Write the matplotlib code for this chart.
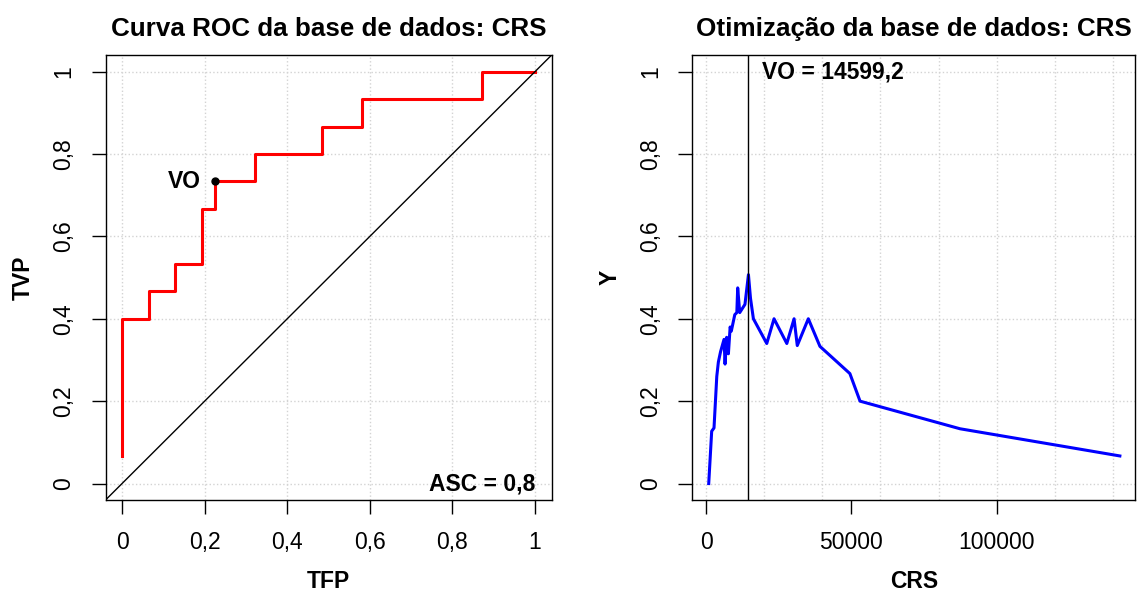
import numpy as np
import matplotlib
matplotlib.use("Agg")
import matplotlib.pyplot as plt
from matplotlib.ticker import FuncFormatter

plt.rcParams['font.family'] = ['Liberation Sans', 'DejaVu Sans']

# curva ROC (15 positivos, 31 negativos)
tfp = [0, 0, 2/31, 2/31, 4/31, 4/31, 6/31, 6/31, 7/31, 7/31, 10/31, 10/31,
       15/31, 15/31, 18/31, 18/31, 27/31, 27/31, 1]
tvp = [1/15, 6/15, 6/15, 7/15, 7/15, 8/15, 8/15, 10/15, 10/15, 11/15, 11/15,
       12/15, 12/15, 13/15, 13/15, 14/15, 14/15, 1, 1]
vo_tfp = 7/31
vo_tvp = 11/15
asc = "0,8"

# otimizacao: valor de corte x indice
crs = [930, 1950, 2750, 3700, 4250, 5000, 6200, 6550, 7100, 7700, 8300, 8700,
       9900, 10600, 10900, 11600, 13400, 14599.2, 15300, 16300, 20900, 23400,
       27800, 30300, 31400, 35200, 39200, 49500, 53000, 87400, 142400]
y_val = [0.0, 0.127, 0.135, 0.26, 0.295, 0.32, 0.35, 0.29, 0.355, 0.315, 0.38,
         0.37, 0.41, 0.415, 0.475, 0.415, 0.435, 0.507, 0.45, 0.40, 0.34, 0.40,
         0.34, 0.40, 0.335, 0.40, 0.333, 0.267, 0.20, 0.133, 0.067]
vo_crs = 14599.2

FS = 16.5
FS_TIT = 18.7
virgula = FuncFormatter(lambda v, p: f"{v:g}".replace('.', ','))

fig = plt.figure(figsize=(11.37, 5.94), dpi=100)
ax1 = fig.add_axes([0.0928, 0.1582, 0.3923, 0.749])
ax2 = fig.add_axes([0.6089, 0.1582, 0.3894, 0.749])

def estilo(ax):
    ax.tick_params(direction='out', length=10, width=1, labelsize=FS)
    ax.tick_params(axis='x', pad=12.4)
    ax.tick_params(axis='y', pad=11.7)
    for t in ax.get_yticklabels():
        t.set_rotation(90)
        t.set_va('center')
    for s in ax.spines.values():
        s.set_linewidth(1)

# painel esquerdo
ticks = np.arange(0, 1.01, 0.2)
for t in ticks:
    ax1.axvline(t, color='lightgray', ls=':', lw=1, zorder=0)
    ax1.axhline(t, color='lightgray', ls=':', lw=1, zorder=0)
ax1.plot(tfp, tvp, color='red', lw=2.2)
ax1.axline((0, 0), (1, 1), color='black', lw=1)
ax1.plot(vo_tfp, vo_tvp, 'o', color='black', ms=5)
ax1.text(vo_tfp - 0.035, vo_tvp, "VO", fontsize=FS, fontweight='bold',
         ha='right', va='center')
ax1.text(1.0, 0, "ASC = " + asc, fontsize=FS, fontweight='bold',
         ha='right', va='center')
ax1.set_xlim(-0.04, 1.04)
ax1.set_ylim(-0.04, 1.04)
ax1.set_xticks(ticks)
ax1.set_yticks(ticks)
ax1.xaxis.set_major_formatter(virgula)
ax1.yaxis.set_major_formatter(virgula)
ax1.set_title("Curva ROC da base de dados: CRS", fontsize=FS_TIT,
              fontweight='bold', pad=14)
ax1.set_xlabel("TFP", fontsize=FS, fontweight='bold', labelpad=11.5)
ax1.set_ylabel("TVP", fontsize=FS, fontweight='bold', labelpad=12.5)
estilo(ax1)

# painel direito
for t in np.arange(0, 140001, 20000):
    ax2.axvline(t, color='lightgray', ls=':', lw=1, zorder=0)
for t in ticks:
    ax2.axhline(t, color='lightgray', ls=':', lw=1, zorder=0)
ax2.plot(crs, y_val, color='blue', lw=2.2)
ax2.axvline(vo_crs, color='black', lw=1)
ax2.annotate("VO = " + f"{vo_crs}".replace('.', ','), (vo_crs, 1),
             xytext=(10, 0), textcoords='offset points', fontsize=FS,
             fontweight='bold', ha='left', va='center')
ax2.set_xlim(-4714, 147630)
ax2.set_ylim(-0.04, 1.04)
ax2.set_xticks([0, 50000, 100000])
ax2.set_yticks(ticks)
ax2.xaxis.set_major_formatter(FuncFormatter(lambda v, p: f"{int(v)}"))
ax2.yaxis.set_major_formatter(virgula)
ax2.set_title("Otimização da base de dados: CRS", fontsize=FS_TIT,
              fontweight='bold', pad=14)
ax2.set_xlabel("CRS", fontsize=FS, fontweight='bold', labelpad=11.5)
ax2.set_ylabel("Y", fontsize=FS, fontweight='bold', labelpad=12.5)
estilo(ax2)

fig.savefig("out.png", dpi=100)
